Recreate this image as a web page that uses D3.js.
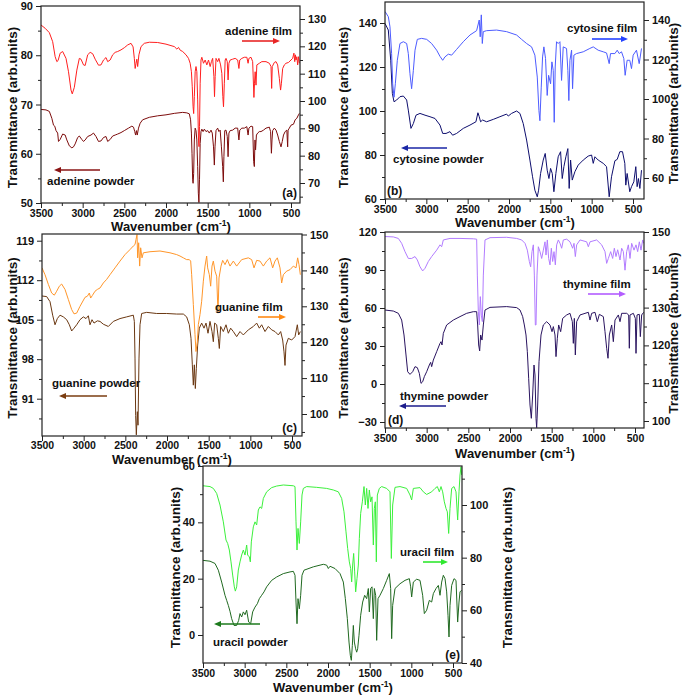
<!DOCTYPE html>
<html><head><meta charset="utf-8">
<script src="https://cdn.jsdelivr.net/npm/d3@7"></script>
<style>
body{margin:0;background:#fff;}
svg{display:block;font-family:"Liberation Sans",Arial,sans-serif;}
</style></head><body>
<svg id="chart" width="685" height="697"></svg>
<script>
// ---------- tick labels ----------
const wnTicks=[3500,3000,2500,2000,1500,1000,500];
const wnMinor=[3250,2750,2250,1750,1250,750];
const aLeftTicks=[50,60,70,80,90], aLeftMinor=[55,65,75,85];
const aRightTicks=[70,80,90,100,110,120,130], aRightMinor=[65,75,85,95,105,115,125];
const bLeftTicks=[60,80,100,120,140], bLeftMinor=[70,90,110,130];
const bRightTicks=[60,80,100,120,140], bRightMinor=[70,90,110,130];
const cLeftTicks=[91,98,105,112,119], cLeftMinor=[87.5,94.5,101.5,108.5,115.5];
const cRightTicks=[100,110,120,130,140,150], cRightMinor=[95,105,115,125,135,145];
const dLeftTicks=[-30,0,30,60,90,120], dLeftMinor=[-15,15,45,75,105];
const dRightTicks=[100,110,120,130,140,150], dRightMinor=[105,115,125,135,145];
const eLeftTicks=[0,20,40,60], eLeftMinor=[10,30,50];
const eRightTicks=[40,60,80,100], eRightMinor=[50,70,90,110];

// ---------- series: [wavenumber, transmittance] ----------
const adenineFilm=[[3500,127.8],[3450,126.6],[3400,125.0],[3360,121.7],[3330,116.2],[3310,114.4],[3295,114.8],[3270,117.5],[3240,118.1],[3200,115.6],[3170,110.7],[3140,104.0],[3125,102.6],[3100,105.0],[3070,111.3],[3040,115.6],[3020,115.3],[2990,113.2],[2970,113.0],[2940,116.9],[2910,117.8],[2880,117.3],[2850,115.3],[2810,113.1],[2780,113.2],[2750,115.0],[2720,115.9],[2700,114.4],[2670,115.0],[2640,116.9],[2610,117.8],[2580,118.1],[2540,118.7],[2500,119.5],[2460,120.5],[2420,121.1],[2395,119.8],[2380,115.6],[2370,111.9],[2360,113.8],[2350,115.3],[2340,112.6],[2325,116.9],[2300,119.9],[2260,121.1],[2200,121.5],[2100,121.4],[2000,120.8],[1900,119.9],[1870,119.0],[1850,119.6],[1830,118.6],[1800,118.1],[1760,116.9],[1730,115.6],[1710,113.8],[1695,110.7],[1685,105.2],[1675,97.9],[1668,95.4],[1660,101.6],[1650,110.7],[1640,112.6],[1630,110.7],[1620,100.4],[1610,85.7],[1604,83.3],[1598,90.6],[1590,106.5],[1580,115.0],[1570,116.0],[1550,113.8],[1530,115.0],[1510,113.2],[1490,115.0],[1470,112.6],[1455,114.4],[1440,115.6],[1425,108.9],[1418,101.6],[1410,108.9],[1400,115.6],[1380,114.4],[1365,115.6],[1345,113.2],[1330,110.1],[1318,101.6],[1310,97.9],[1300,106.5],[1290,115.0],[1280,115.6],[1265,114.4],[1255,107.7],[1245,113.8],[1230,115.0],[1200,115.3],[1170,115.6],[1140,115.0],[1125,111.9],[1115,115.0],[1090,115.6],[1060,116.0],[1030,116.0],[1015,113.8],[1005,115.6],[980,116.0],[960,114.4],[945,101.3],[938,106.5],[930,110.7],[920,105.8],[910,113.2],[880,113.8],[850,114.4],[800,114.4],[760,113.8],[740,112.6],[732,104.6],[725,112.6],[700,114.1],[680,114.4],[660,113.2],[640,108.3],[625,104.0],[615,106.5],[600,111.9],[580,113.2],[560,113.8],[530,114.1],[500,115.0],[480,115.6],[465,117.5],[455,114.4],[448,116.9],[440,115.0],[430,116.2],[420,113.2],[410,116.2],[400,113.8]];
const adeninePowder=[[3500,69.0],[3440,68.9],[3400,68.6],[3370,67.2],[3350,65.8],[3335,65.6],[3320,64.7],[3300,64.2],[3290,62.5],[3270,62.9],[3240,64.0],[3210,63.8],[3190,62.8],[3160,61.6],[3130,61.2],[3110,61.4],[3090,62.0],[3060,63.3],[3040,63.6],[3010,62.9],[2990,62.5],[2970,62.8],[2940,63.5],[2900,63.8],[2870,64.2],[2840,63.5],[2810,62.5],[2780,62.6],[2750,63.3],[2720,63.5],[2700,62.5],[2670,62.9],[2640,63.6],[2610,63.8],[2580,64.0],[2540,64.3],[2500,64.7],[2450,65.2],[2410,65.6],[2390,65.4],[2375,64.5],[2365,63.8],[2355,64.7],[2345,63.8],[2330,65.2],[2310,66.2],[2280,66.9],[2200,67.4],[2100,67.7],[2000,67.9],[1900,68.2],[1800,68.4],[1750,68.3],[1720,68.1],[1705,66.9],[1695,64.2],[1688,60.1],[1680,54.7],[1675,54.0],[1668,56.0],[1660,62.8],[1650,65.2],[1640,64.7],[1630,62.8],[1620,57.4],[1612,52.0],[1605,50.1],[1598,54.7],[1590,62.1],[1580,64.5],[1570,65.0],[1555,64.5],[1540,65.0],[1520,64.5],[1500,64.7],[1480,64.2],[1460,64.8],[1445,64.2],[1430,61.4],[1420,57.7],[1412,61.4],[1400,64.7],[1380,65.2],[1365,64.5],[1350,64.8],[1335,61.4],[1320,57.4],[1312,54.3],[1305,59.4],[1295,64.7],[1280,64.8],[1265,63.5],[1255,59.4],[1245,64.2],[1230,64.7],[1200,64.8],[1170,65.2],[1140,65.2],[1125,62.8],[1115,64.8],[1090,65.2],[1060,65.2],[1030,65.5],[1015,63.8],[1005,65.2],[980,65.6],[960,65.5],[948,58.4],[940,57.4],[932,62.8],[925,60.8],[915,63.8],[900,64.2],[880,64.5],[860,64.5],[830,64.8],[800,65.2],[760,65.4],[745,64.5],[735,60.1],[728,62.8],[720,64.7],[700,65.2],[680,64.8],[660,63.8],[640,62.5],[620,61.4],[605,62.5],[590,63.8],[570,64.5],[550,64.8],[540,61.4],[535,64.8],[520,65.2],[500,65.8],[470,66.0],[450,66.9],[430,67.2],[410,67.9],[400,68.2]];
const cytosineFilm=[[3500,144.3],[3460,141.7],[3440,136.6],[3420,123.0],[3407,107.7],[3391,100.9],[3375,107.7],[3351,119.6],[3319,128.1],[3278,129.0],[3238,128.1],[3218,123.0],[3198,112.8],[3178,105.2],[3157,114.5],[3137,124.7],[3109,130.2],[3057,130.7],[2996,130.2],[2936,128.1],[2875,124.7],[2835,121.6],[2802,119.6],[2775,121.3],[2734,122.7],[2694,122.2],[2634,125.1],[2553,129.0],[2472,132.4],[2392,134.6],[2360,140.0],[2348,131.5],[2335,142.6],[2323,128.1],[2311,134.1],[2271,134.6],[2150,134.9],[2029,134.1],[1908,132.4],[1848,130.2],[1787,128.1],[1727,126.4],[1687,122.2],[1658,111.1],[1638,94.1],[1626,89.0],[1610,106.0],[1594,121.3],[1578,126.4],[1558,120.5],[1538,101.8],[1521,112.0],[1497,107.7],[1481,118.8],[1465,114.5],[1453,88.2],[1441,116.2],[1425,129.0],[1405,128.1],[1384,129.0],[1364,109.4],[1344,126.4],[1304,125.6],[1288,114.5],[1276,99.2],[1263,119.6],[1243,124.7],[1231,105.2],[1215,122.2],[1183,123.0],[1102,123.9],[1022,125.6],[981,126.4],[921,124.7],[860,123.9],[820,123.3],[788,117.9],[772,123.0],[719,123.0],[691,124.7],[667,123.0],[639,123.9],[611,120.5],[595,112.0],[571,119.6],[539,119.6],[518,115.4],[498,122.2],[458,124.7],[425,117.9],[397,125.6]];
const cytosinePowder=[[3500,139.8],[3460,136.8],[3431,123.1],[3411,108.0],[3391,104.2],[3359,105.0],[3319,106.5],[3278,106.8],[3238,105.0],[3218,100.4],[3186,92.1],[3157,94.3],[3125,98.1],[3077,98.9],[3016,98.1],[2956,97.4],[2895,96.6],[2835,93.6],[2802,89.8],[2762,89.8],[2714,90.6],[2682,89.0],[2634,89.8],[2553,92.1],[2472,93.6],[2400,95.1],[2376,99.2],[2360,97.4],[2344,95.1],[2319,95.9],[2271,95.1],[2190,96.2],[2110,97.4],[2029,98.6],[2009,97.7],[1969,98.9],[1908,100.0],[1868,98.9],[1828,94.3],[1787,86.8],[1747,77.7],[1715,70.1],[1687,64.0],[1658,61.0],[1642,64.0],[1618,71.6],[1586,77.7],[1562,80.7],[1538,73.1],[1517,69.3],[1497,73.9],[1477,71.6],[1457,63.3],[1433,71.6],[1405,79.2],[1376,81.5],[1356,69.3],[1336,74.7],[1312,79.2],[1288,82.9],[1272,64.8],[1255,77.7],[1235,68.6],[1203,72.4],[1163,75.4],[1102,77.7],[1042,79.5],[1001,80.0],[981,76.2],[961,79.2],[921,77.7],[860,76.2],[820,74.7],[788,61.0],[760,70.1],[719,77.4],[691,78.0],[659,81.5],[627,81.5],[599,76.2],[587,66.3],[571,71.6],[539,63.3],[518,65.6],[490,67.8],[466,74.7],[450,65.6],[434,69.3],[417,64.8],[397,73.1]];
const guanineFilm=[[3500,140.7],[3464,138.8],[3424,136.1],[3384,133.7],[3352,133.1],[3324,134.2],[3292,135.6],[3264,136.2],[3224,134.7],[3184,131.9],[3144,129.1],[3116,127.9],[3084,128.1],[3044,130.0],[2984,132.5],[2956,132.8],[2932,133.7],[2916,132.3],[2896,133.0],[2864,134.2],[2836,134.7],[2804,135.1],[2764,136.5],[2724,137.5],[2684,138.8],[2624,140.7],[2564,142.6],[2504,144.4],[2444,145.8],[2404,146.8],[2384,147.2],[2372,148.6],[2360,150.0],[2352,143.5],[2340,147.7],[2328,141.2],[2316,146.3],[2300,143.5],[2284,144.9],[2204,145.2],[2084,145.4],[1964,144.9],[1884,144.4],[1844,144.0],[1804,143.5],[1764,143.0],[1732,143.0],[1716,142.6],[1704,138.8],[1684,130.5],[1664,122.1],[1652,117.4],[1636,120.2],[1624,124.9],[1604,127.7],[1584,131.4],[1564,137.0],[1544,141.2],[1524,144.0],[1512,140.7],[1492,138.8],[1476,135.6],[1460,141.2],[1444,142.6],[1424,139.8],[1404,138.4],[1388,128.1],[1376,137.9],[1352,141.2],[1332,142.8],[1304,141.6],[1276,143.0],[1244,141.2],[1204,142.6],[1164,141.2],[1104,143.0],[1024,143.5],[984,143.0],[956,140.7],[924,142.8],[884,142.6],[844,141.2],[804,142.6],[764,143.5],[732,140.7],[704,142.6],[676,143.5],[644,140.7],[624,136.5],[604,138.8],[564,139.8],[524,140.2],[484,141.2],[452,140.7],[432,143.5],[416,141.6],[400,138.8]];
const guaninePowder=[[3500,109.2],[3444,109.1],[3404,108.2],[3372,105.8],[3344,104.1],[3316,105.2],[3284,105.8],[3244,105.5],[3204,105.0],[3172,104.1],[3144,103.0],[3116,103.5],[3084,104.1],[3044,105.0],[3004,105.5],[2972,105.2],[2944,105.7],[2924,104.1],[2900,105.0],[2876,104.4],[2836,104.8],[2804,104.7],[2764,104.2],[2704,103.8],[2644,104.7],[2564,105.2],[2484,105.5],[2404,105.8],[2392,104.7],[2384,98.2],[2376,88.0],[2368,84.6],[2356,88.7],[2348,86.3],[2336,98.2],[2324,104.1],[2304,106.1],[2244,106.3],[2124,106.1],[2004,106.1],[1884,106.0],[1804,106.0],[1764,105.5],[1732,104.1],[1712,101.7],[1696,97.0],[1684,93.4],[1672,97.0],[1660,92.8],[1648,96.4],[1632,100.5],[1612,103.5],[1584,104.4],[1556,103.5],[1532,104.4],[1508,102.6],[1484,104.7],[1460,102.9],[1444,101.1],[1428,104.4],[1404,104.1],[1384,101.7],[1372,99.9],[1356,103.8],[1324,102.9],[1292,104.1],[1264,102.6],[1236,103.5],[1204,102.9],[1164,102.0],[1124,102.9],[1084,102.3],[1024,103.2],[964,103.8],[924,104.4],[892,103.5],[864,104.1],[824,102.9],[784,103.8],[744,103.2],[704,102.9],[664,102.3],[636,102.9],[612,101.4],[596,99.3],[584,96.9],[572,100.5],[544,101.7],[504,101.4],[464,102.0],[436,104.1],[420,102.3],[400,102.9]];
const thymineFilm=[[3500,148.8],[3400,148.7],[3340,148.3],[3300,147.0],[3260,144.8],[3220,143.0],[3180,143.0],[3140,143.5],[3112,142.6],[3080,140.8],[3048,139.7],[3020,140.4],[2980,142.2],[2940,143.5],[2880,145.2],[2840,146.6],[2820,146.1],[2800,147.9],[2720,148.3],[2600,148.3],[2440,148.2],[2400,148.1],[2392,138.6],[2380,128.9],[2368,125.4],[2356,132.9],[2344,128.0],[2332,126.3],[2320,138.6],[2300,147.9],[2240,148.5],[2040,148.6],[1920,148.3],[1860,147.9],[1820,147.0],[1792,145.2],[1768,142.2],[1752,140.8],[1736,144.8],[1720,146.6],[1708,138.6],[1696,125.4],[1688,125.4],[1676,138.6],[1660,146.1],[1640,144.8],[1620,143.0],[1600,145.2],[1580,147.4],[1568,143.9],[1552,147.9],[1536,143.0],[1520,141.3],[1504,145.7],[1488,142.2],[1472,144.8],[1456,141.3],[1440,146.6],[1420,147.9],[1400,147.0],[1380,145.7],[1360,147.9],[1320,148.1],[1280,147.4],[1248,145.7],[1232,147.0],[1216,143.5],[1200,146.6],[1160,147.9],[1080,147.4],[1060,146.1],[1040,147.4],[960,147.9],[900,146.6],[860,144.8],[840,141.7],[820,143.0],[792,144.8],[768,143.0],[748,145.7],[728,143.5],[708,145.3],[680,142.6],[660,145.7],[640,144.8],[620,139.9],[600,144.8],[580,146.6],[560,143.0],[540,147.0],[512,145.2],[488,146.6],[468,144.8],[448,147.4],[428,145.2],[408,147.9],[396,147.0]];
const thyminePowder=[[3500,58.4],[3400,57.6],[3340,55.8],[3300,50.5],[3272,38.7],[3248,22.9],[3228,9.7],[3200,7.6],[3168,9.7],[3140,13.7],[3112,12.9],[3088,8.4],[3068,0.5],[3048,1.8],[3028,5.8],[3000,9.7],[2968,15.0],[2952,17.1],[2940,13.7],[2920,18.9],[2880,25.5],[2840,32.1],[2828,33.4],[2816,30.8],[2800,40.0],[2760,46.6],[2680,50.5],[2600,53.2],[2520,55.8],[2440,57.1],[2400,57.1],[2388,46.6],[2376,30.8],[2364,26.1],[2352,38.7],[2336,34.7],[2320,46.6],[2300,58.4],[2240,60.5],[2040,61.1],[1920,60.3],[1880,58.4],[1848,53.2],[1828,46.6],[1808,38.7],[1792,25.5],[1776,4.5],[1760,-16.6],[1744,-27.1],[1728,-8.7],[1712,15.0],[1700,7.1],[1688,-27.1],[1680,-34.5],[1668,-16.6],[1652,17.6],[1628,38.7],[1600,46.6],[1560,49.2],[1520,46.6],[1496,41.3],[1480,45.3],[1460,38.7],[1448,21.6],[1432,36.1],[1416,46.6],[1392,41.3],[1368,51.8],[1320,54.5],[1280,55.8],[1252,49.2],[1240,32.1],[1228,51.8],[1216,22.9],[1200,49.2],[1160,54.5],[1060,56.6],[1040,50.5],[1020,55.8],[980,56.6],[952,49.2],[928,55.0],[880,53.2],[860,41.3],[840,28.2],[824,20.3],[808,38.7],[780,46.6],[760,33.4],[740,50.5],[700,54.5],[680,49.2],[660,55.8],[600,55.8],[576,54.5],[568,28.2],[560,54.5],[520,55.8],[496,51.8],[488,24.2],[476,54.5],[448,55.0],[436,37.4],[420,54.5],[396,56.6]];
const uracilFilm=[[3500,107.3],[3416,107.0],[3376,106.3],[3336,104.4],[3296,100.0],[3256,93.6],[3224,86.7],[3204,85.4],[3184,82.9],[3164,78.4],[3144,73.4],[3124,68.9],[3112,67.3],[3096,68.9],[3076,75.3],[3056,78.4],[3036,81.0],[3016,82.9],[2996,81.0],[2976,84.8],[2964,81.0],[2944,80.3],[2932,78.4],[2920,86.0],[2896,91.7],[2876,93.6],[2856,92.4],[2836,98.1],[2816,99.3],[2796,98.7],[2776,102.5],[2736,105.0],[2676,106.6],[2616,107.2],[2536,107.6],[2416,107.3],[2396,107.0],[2384,93.6],[2372,82.9],[2360,91.1],[2344,85.4],[2328,93.6],[2312,103.8],[2296,106.3],[2256,107.0],[2136,106.7],[2016,106.3],[1936,105.7],[1876,105.0],[1836,102.5],[1808,97.4],[1784,89.8],[1764,83.5],[1744,78.4],[1728,75.9],[1716,70.8],[1704,77.2],[1692,81.6],[1680,74.6],[1668,67.0],[1652,72.1],[1636,77.2],[1624,87.3],[1608,96.8],[1588,101.2],[1568,107.0],[1552,100.0],[1536,106.3],[1520,98.7],[1504,105.7],[1488,101.2],[1472,103.1],[1456,84.8],[1444,98.7],[1432,101.2],[1420,78.4],[1408,103.8],[1384,106.3],[1356,107.0],[1296,106.3],[1256,105.0],[1240,79.7],[1224,100.0],[1196,106.7],[1136,107.0],[1056,106.3],[1016,103.8],[996,101.9],[976,106.3],[896,106.6],[856,105.0],[816,104.0],[756,105.0],[716,106.3],[688,107.0],[664,105.0],[644,107.0],[624,105.0],[604,101.2],[584,98.7],[568,97.4],[552,89.2],[536,98.7],[516,106.3],[488,107.0],[464,105.0],[444,94.3],[428,105.0],[416,111.4],[404,114.5],[396,111.4]];
const uracilPowder=[[3500,26.5],[3416,26.2],[3356,25.4],[3316,23.0],[3276,18.8],[3236,14.1],[3216,12.3],[3196,10.5],[3176,8.4],[3156,5.8],[3128,3.4],[3096,3.4],[3072,5.2],[3056,7.6],[3036,6.4],[3016,8.2],[2996,7.2],[2976,8.8],[2952,4.6],[2928,4.0],[2904,8.2],[2876,9.9],[2848,11.1],[2824,12.9],[2796,14.1],[2768,15.3],[2736,17.1],[2676,19.4],[2616,20.6],[2536,21.8],[2456,22.4],[2416,22.6],[2396,21.2],[2384,11.7],[2372,4.0],[2360,12.9],[2344,9.3],[2328,14.1],[2312,21.2],[2288,23.0],[2176,24.2],[2056,25.1],[2016,24.8],[1996,23.6],[1976,24.4],[1916,23.6],[1856,21.8],[1816,18.8],[1792,12.9],[1768,5.8],[1748,-2.5],[1732,-7.3],[1720,-9.0],[1708,-3.7],[1696,3.4],[1684,-2.5],[1668,-4.9],[1656,-6.1],[1644,-4.9],[1628,-0.1],[1608,7.0],[1584,11.7],[1560,14.1],[1536,12.9],[1516,16.5],[1504,8.2],[1488,16.5],[1472,17.1],[1456,5.8],[1444,16.5],[1428,14.1],[1416,-1.9],[1400,12.9],[1376,14.1],[1336,16.5],[1296,19.4],[1264,21.8],[1248,16.5],[1236,-1.3],[1224,10.5],[1196,16.5],[1136,18.2],[1076,19.4],[1024,20.0],[1008,17.1],[996,13.5],[976,18.8],[936,19.8],[896,19.4],[864,14.1],[844,7.6],[816,8.8],[784,12.3],[756,11.7],[736,14.7],[704,16.5],[676,17.6],[656,14.1],[636,18.8],[616,21.2],[596,20.0],[576,15.3],[560,7.0],[548,-0.7],[536,10.5],[516,17.6],[488,20.0],[464,19.4],[444,4.6],[428,11.7],[416,15.3],[396,15.9]];

// ---------- panel layout ----------
const panels=[
 {tag:"(a)",x3500:41,x500:291,xR:300,yT:6,yB:203,
  lDom:[50,90],lPx:[203,6],lTicks:aLeftTicks,lMinor:aLeftMinor,
  rDom:[70,130],rPx:[183,19],rTicks:aRightTicks,rMinor:aRightMinor,
  film:adenineFilm,powder:adeninePowder,filmColor:"#ff1f1f",powderColor:"#7d0c0c",
  filmText:"adenine film",powderText:"adenine powder",filmArrow:"#e82626",powderArrow:"#8a1414",
  ft:[225,35],fa:[242,280,41],pt:[47,185],pa:[100,54,170],tagPos:[297,197,"end"],
  lLab:12,rLab:343,xLab:[171,231],xPad:1.5},
 {tag:"(b)",x3500:385,x500:633,xR:644,yT:2,yB:199,
  lDom:[60,140],lPx:[199,23],lTicks:bLeftTicks,lMinor:bLeftMinor,
  rDom:[60,140],rPx:[178,20],rTicks:bRightTicks,rMinor:bRightMinor,
  film:cytosineFilm,powder:cytosinePowder,filmColor:"#4d5cff",powderColor:"#0e0e6e",
  filmText:"cytosine film",powderText:"cytosine powder",filmArrow:"#2442ff",powderArrow:"#1a26a6",
  ft:[567,32],fa:[592,628,39],pt:[393,163],pa:[447,401,148],tagPos:[387,195,"start"],
  lLab:null,rLab:673,xLab:[515,227],xPad:1.5},
 {tag:"(c)",x3500:42,x500:292,xR:302,yT:234,yB:436,
  lDom:[91,119],lPx:[398.7,240.7],lTicks:cLeftTicks,lMinor:cLeftMinor,
  rDom:[100,150],rPx:[414,234.5],rTicks:cRightTicks,rMinor:cRightMinor,
  film:guanineFilm,powder:guaninePowder,filmColor:"#ff962a",powderColor:"#6b3812",
  filmText:"guanine film",powderText:"guanine powder",filmArrow:"#ff8a14",powderArrow:"#7a3c10",
  ft:[215,311],fa:[258,286,317],pt:[52,387],pa:[107,59,396],tagPos:[297,432,"end"],
  lLab:12,rLab:343,xLab:[172,463.5],xPad:0.5},
 {tag:"(d)",x3500:385,x500:635,xR:644,yT:232,yB:428,
  lDom:[-30,120],lPx:[422,232],lTicks:dLeftTicks,lMinor:dLeftMinor,
  rDom:[100,150],rPx:[421,232],rTicks:dRightTicks,rMinor:dRightMinor,
  film:thymineFilm,powder:thyminePowder,filmColor:"#b27cff",powderColor:"#2a1460",
  filmText:"thymine film",powderText:"thymine powder",filmArrow:"#b35cff",powderArrow:"#1c1c8c",
  ft:[563,288],fa:[588,626,294],pt:[400,400],pa:[446,399,406],tagPos:[388,424,"start"],
  lLab:null,rLab:673,xLab:[515,458],xPad:1.5},
 {tag:"(e)",x3500:203,x500:453,xR:462,yT:466,yB:663,
  lDom:[0,60],lPx:[635,466],lTicks:eLeftTicks,lMinor:eLeftMinor,
  rDom:[40,100],rPx:[663,505],rTicks:eRightTicks,rMinor:eRightMinor,
  film:uracilFilm,powder:uracilPowder,filmColor:"#3cf03c",powderColor:"#216a21",
  filmText:"uracil film",powderText:"uracil powder",filmArrow:"#2fe82f",powderArrow:"#1d7a1d",
  ft:[400,556],fa:[423,448,562],pt:[213,646],pa:[260,214,624],tagPos:[460,659,"end"],
  lLab:175,rLab:507,xLab:[333,692],xPad:1.5}
];

const svg=d3.select("#chart");
const defs=svg.append("defs");
const AX="#222";
const fmt=d3.format("d");

function styleAxis(sel,fs){
  sel.select(".domain").remove();
  sel.selectAll(".tick line").attr("stroke",AX).attr("stroke-width",1);
  sel.selectAll(".tick text").attr("font-size",fs||11).attr("font-weight","bold").attr("fill","#111")
     .attr("font-family","'Liberation Sans',Arial,sans-serif");
}

function arrow(g,x1,x2,y,color){
  const dir=x2>x1?1:-1, hl=7, hw=3;
  g.append("line").attr("x1",x1).attr("x2",x2-dir*hl).attr("y1",y).attr("y2",y)
   .attr("stroke",color).attr("stroke-width",1.6);
  g.append("path").attr("d",`M${x2},${y}L${x2-dir*hl},${y-hw}L${x2-dir*hl},${y+hw}Z`).attr("fill",color);
}

function yTitle(g,x,yc){
  g.append("text").attr("transform",`translate(${x},${yc}) rotate(-90)`)
   .attr("text-anchor","middle").attr("dominant-baseline","central")
   .attr("font-size",13.5).attr("font-weight","bold").attr("fill","#111")
   .text("Transmittance (arb.units)");
}

panels.forEach((p,i)=>{
  const g=svg.append("g");
  const x=d3.scaleLinear().domain([3500,500]).range([p.x3500,p.x500]);
  const yL=d3.scaleLinear().domain(p.lDom).range(p.lPx);
  const yR=d3.scaleLinear().domain(p.rDom).range(p.rPx);
  const w=p.xR-p.x3500, h=p.yB-p.yT;
  const cid="clip"+i;
  defs.append("clipPath").attr("id",cid).append("rect").attr("x",p.x3500).attr("y",p.yT).attr("width",w).attr("height",h);

  // axes
  g.append("g").attr("transform",`translate(0,${p.yB})`)
   .call(d3.axisBottom(x).tickValues(wnTicks).tickFormat(fmt).tickSize(5).tickPadding(p.xPad)).call(styleAxis,10.5);
  g.append("g").attr("transform",`translate(0,${p.yB})`)
   .call(d3.axisBottom(x).tickValues(wnMinor).tickSize(3).tickFormat("")).call(styleAxis);
  g.append("g").attr("transform",`translate(${p.x3500},0)`)
   .call(d3.axisLeft(yL).tickValues(p.lTicks).tickFormat(fmt).tickSize(5).tickPadding(3)).call(styleAxis);
  g.append("g").attr("transform",`translate(${p.x3500},0)`)
   .call(d3.axisLeft(yL).tickValues(p.lMinor).tickSize(3).tickFormat("")).call(styleAxis);
  g.append("g").attr("transform",`translate(${p.xR},0)`)
   .call(d3.axisRight(yR).tickValues(p.rTicks).tickFormat(fmt).tickSize(5).tickPadding(3)).call(styleAxis);
  g.append("g").attr("transform",`translate(${p.xR},0)`)
   .call(d3.axisRight(yR).tickValues(p.rMinor).tickSize(3).tickFormat("")).call(styleAxis);

  // spectra
  const lineF=d3.line().x(d=>x(d[0])).y(d=>yR(d[1]));
  const lineP=d3.line().x(d=>x(d[0])).y(d=>yL(d[1]));
  const pg=g.append("g").attr("clip-path",`url(#${cid})`);
  pg.append("path").datum(p.powder).attr("d",lineP).attr("fill","none").attr("stroke",p.powderColor).attr("stroke-width",1).attr("stroke-linejoin","round");
  pg.append("path").datum(p.film).attr("d",lineF).attr("fill","none").attr("stroke",p.filmColor).attr("stroke-width",1).attr("stroke-linejoin","round");

  // frame
  g.append("rect").attr("x",p.x3500).attr("y",p.yT).attr("width",w).attr("height",h)
   .attr("fill","none").attr("stroke",AX).attr("stroke-width",1.2);

  // legends
  const tx=(pos,t)=>g.append("text").attr("x",pos[0]).attr("y",pos[1]).attr("font-size",11.5)
     .attr("font-weight","bold").attr("fill","#111").text(t);
  tx(p.ft,p.filmText); tx(p.pt,p.powderText);
  arrow(g,p.fa[0],p.fa[1],p.fa[2],p.filmArrow);
  arrow(g,p.pa[0],p.pa[1],p.pa[2],p.powderArrow);
  g.append("text").attr("x",p.tagPos[0]).attr("y",p.tagPos[1]).attr("text-anchor",p.tagPos[2])
   .attr("font-size",12).attr("font-weight","bold").attr("fill","#111").text(p.tag);

  // titles
  const yc=(p.yT+p.yB)/2+3;
  if(p.lLab!==null) yTitle(g,p.lLab,yc);
  yTitle(g,p.rLab,yc);
  const xt=g.append("text").attr("x",p.xLab[0]).attr("y",p.xLab[1]).attr("text-anchor","middle")
   .attr("font-size",13).attr("font-weight","bold").attr("fill","#111");
  xt.append("tspan").text("Wavenumber (cm");
  xt.append("tspan").attr("dy",-5).attr("font-size",8.5).text("-1");
  xt.append("tspan").attr("dy",5).text(")");
});
</script>
</body></html>
